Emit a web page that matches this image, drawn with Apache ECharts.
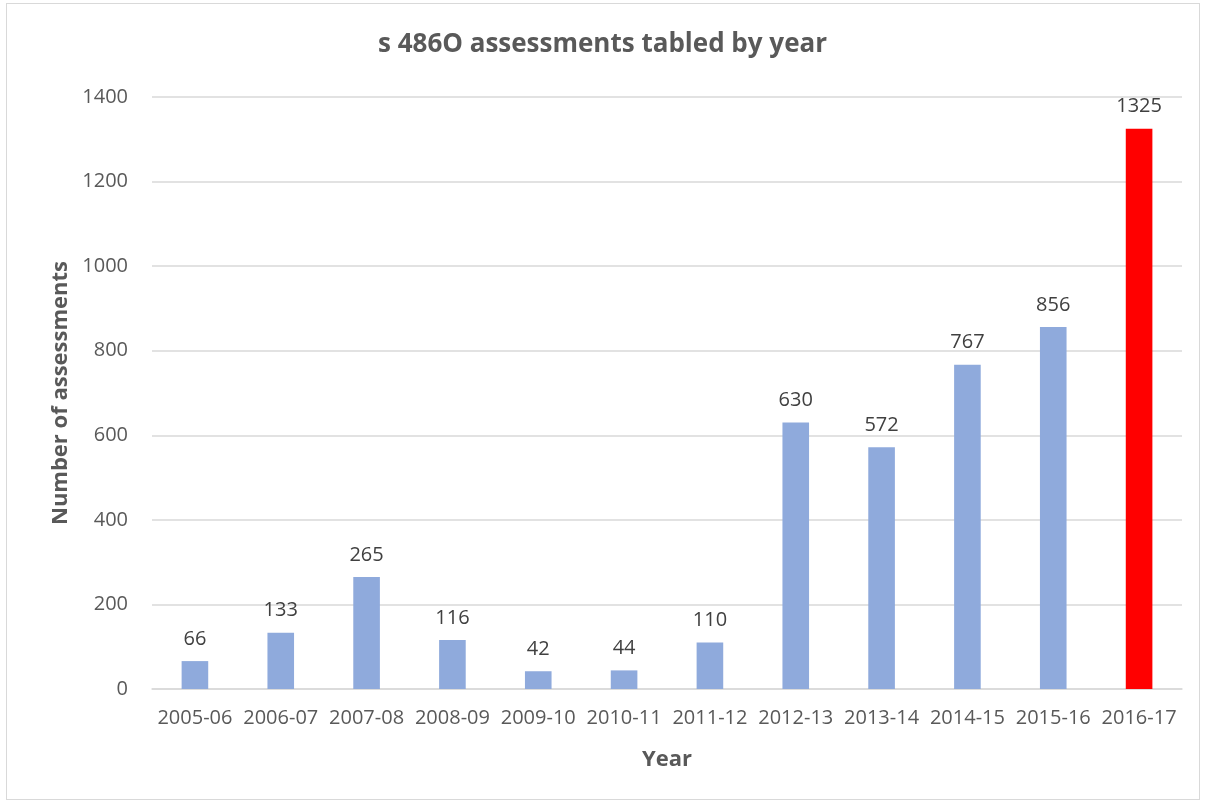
<!DOCTYPE html>
<html><head><meta charset="utf-8">
<script src="https://cdn.jsdelivr.net/npm/echarts@6/dist/echarts.min.js"></script>
<style>html,body{margin:0;padding:0;background:#fff}#c{width:1205px;height:803px}
#frame{position:absolute;left:6px;top:3px;width:1192px;height:795px;border:1px solid #d9d9d9;pointer-events:none}</style>
</head><body><div id="c"></div><div id="frame"></div>
<script>
const categories = ['2005-06','2006-07','2007-08','2008-09','2009-10','2010-11','2011-12','2012-13','2013-14','2014-15','2015-16','2016-17'];
const values = [66,133,265,116,42,44,110,630,572,767,856,1325];
const yTicks = {min:0, max:1400, interval:200};
const highlightIndex = 11;

const chart = echarts.init(document.getElementById('c'));
const font = 'Open Sans, Liberation Sans, sans-serif';
chart.setOption({
  animation:false,
  title:{text:'s 486O assessments tabled by year', left:'center', top:27,
    textStyle:{fontFamily:font, fontSize:26, fontWeight:'bold', color:'#595959'}},
  grid:{left:152, right:23, top:97, bottom:114},
  xAxis:{type:'category', data:categories,
    name:'Year', nameLocation:'middle', nameGap:60,
    nameTextStyle:{fontFamily:font, fontSize:22, fontWeight:'bold', color:'#595959'},
    axisLine:{lineStyle:{color:'#d9d9d9', width:1.5}}, axisTick:{show:false},
    axisLabel:{fontFamily:font, fontSize:20, color:'#595959', margin:19, interval:0}},
  yAxis:{type:'value', min:yTicks.min, max:yTicks.max, interval:yTicks.interval,
    name:'Number of assessments', nameLocation:'middle', nameGap:80,
    nameTextStyle:{fontFamily:font, fontSize:22, fontWeight:'bold', color:'#595959'},
    axisLine:{show:false}, axisTick:{show:false},
    axisLabel:{fontFamily:font, fontSize:20, color:'#595959', margin:24, formatter:v=>String(v)},
    splitLine:{lineStyle:{color:'#d9d9d9', width:1.5}}},
  series:[{type:'bar', barWidth:'31%',
    data: values.map((v,i)=>({value:v, itemStyle:{color: i===highlightIndex ? '#ff0000' : '#8faadc'}})),
    label:{show:true, position:'top', distance:12, fontFamily:font, fontSize:20, color:'#404040'}}]
});
</script></body></html>
